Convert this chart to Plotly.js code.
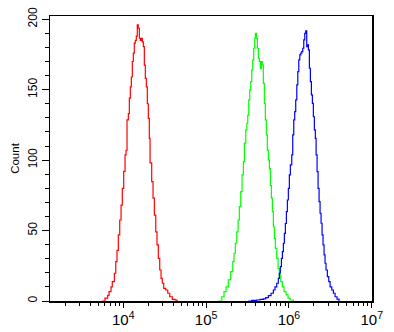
<!DOCTYPE html>
<html>
<head>
<meta charset="utf-8">
<script src="https://cdn.plot.ly/plotly-3.0.1.min.js"></script>
<style>html,body{margin:0;padding:0;background:#fff;}#chart{width:394px;height:332px;}</style>
</head>
<body>
<div id="chart"></div>
<script>
// Fluorescence intensity given as log10 values, counts per bin
const redLogIntensity = [3.747,3.779,3.812,3.828,3.852,3.867,3.892,3.909,3.924,3.940,3.957,3.973,3.988,4.005,4.021,4.033,4.045,4.061,4.073,4.085,4.097,4.109,4.121,4.133,4.145,4.157,4.169,4.181,4.194,4.206,4.218,4.230,4.242,4.254,4.266,4.278,4.290,4.302,4.314,4.323,4.343,4.359,4.375,4.392,4.407,4.423,4.440,4.456,4.471,4.488,4.512,4.537,4.561,4.592,4.625,4.649];
const redCount = [0,2,4,6.6,10,13.7,19.7,27.9,36,47,57.5,68,80,92,103.7,107,128.5,133,144,152,159,170,176,183,185,188,196,193.6,186.5,185,186.5,184,180.6,167.5,158,152,140,129.7,115.5,98,84.7,73,61,49,39.8,30.3,22,16,12.6,9,7.8,5.5,3,1.2,0.7,0];

const greenLogIntensity = [5.148,5.189,5.216,5.241,5.268,5.297,5.322,5.337,5.353,5.370,5.386,5.401,5.418,5.434,5.450,5.462,5.479,5.491,5.503,5.515,5.527,5.539,5.551,5.563,5.575,5.587,5.595,5.607,5.619,5.631,5.643,5.655,5.667,5.679,5.691,5.703,5.715,5.727,5.739,5.752,5.764,5.776,5.788,5.800,5.812,5.824,5.836,5.853,5.869,5.884,5.901,5.921,5.941,5.965,5.989,6.014,6.053];
const greenCount = [0,3,6.6,10,15,20.8,27.9,33.9,41,49,57.5,67,77.6,89.5,99,112,121.4,126,132,142.7,149.8,155.7,164,171,179.4,186.5,190,186.5,179.4,172.3,170,165,170,167.6,154.5,140.3,128.5,117.9,107,100,94,82,73,63.4,52.7,44.5,37.4,30.3,23,18.5,13.7,10,6.6,4.3,2,0.7,0];

const blueLogIntensity = [5.510,5.551,5.611,5.651,5.691,5.720,5.752,5.784,5.812,5.832,5.853,5.872,5.884,5.896,5.909,5.921,5.933,5.945,5.957,5.969,5.981,5.993,6.005,6.017,6.034,6.046,6.058,6.070,6.082,6.095,6.107,6.119,6.131,6.143,6.155,6.167,6.179,6.191,6.203,6.215,6.223,6.235,6.247,6.259,6.271,6.283,6.295,6.307,6.319,6.328,6.340,6.352,6.364,6.376,6.388,6.400,6.412,6.424,6.436,6.448,6.464,6.481,6.497,6.517,6.537,6.557,6.581,6.605];
const blueCount = [0,0.5,0.7,1.2,1.5,2.4,3.8,5.5,7.8,10,12.6,16,19.7,24.4,30.3,35,41,48,55,63.4,71.7,80,89.5,96.6,103.7,117.9,128.5,134.4,142.7,153.4,162.8,171.1,174.7,175.9,177,179.4,185.3,190,191.7,180.6,181.8,178.2,165.2,155.7,146.3,140.3,130.8,121.4,115.5,103.7,91.8,80,70.5,62.3,55.2,46.9,39.8,32.7,26.8,22,17.3,13.7,10,7.8,5.5,3,1.4,0];

const seriesColors = ['#ff0000', '#00ff00', '#0000ff'];
const yAxisTitle = 'Count';

const toLinear = arr => arr.map(v => Math.pow(10, v));

const traces = [
  [redLogIntensity, redCount],
  [greenLogIntensity, greenCount],
  [blueLogIntensity, blueCount]
].map((s, i) => ({
  x: toLinear(s[0]),
  y: s[1],
  type: 'scatter',
  mode: 'lines',
  line: {color: seriesColors[i], width: 1.2, shape: 'hv'},
  hoverinfo: 'skip'
}));

const layout = {
  width: 394, height: 332,
  margin: {l: 50, r: 22, t: 16, b: 31},
  paper_bgcolor: '#fff', plot_bgcolor: '#fff',
  showlegend: false,
  font: {family: 'Liberation Sans, Arial, sans-serif', size: 12, color: '#000'},
  xaxis: {
    type: 'log',
    range: [3.115, 7.003],
    dtick: 1,
    exponentformat: 'power',
    showgrid: false, zeroline: false,
    showline: true, linecolor: '#000', linewidth: 1.5, mirror: true,
    ticks: 'outside', ticklen: 5, tickcolor: '#000', tickwidth: 1,
    minor: {ticks: 'outside', ticklen: 3, tickcolor: '#000', dtick: 'D1', showgrid: false},
    tickfont: {size: 12}
  },
  yaxis: {
    range: [0, 202.3],
    dtick: 50,
    tickangle: -90,
    showgrid: false, zeroline: false,
    showline: true, linecolor: '#000', linewidth: 1.5, mirror: true,
    ticks: 'outside', ticklen: 7, tickcolor: '#000', tickwidth: 1,
    minor: {ticks: 'outside', ticklen: 4, tickcolor: '#000', dtick: 10, showgrid: false},
    tickfont: {size: 12},
    title: {text: yAxisTitle, font: {size: 11.5}, standoff: 3}
  }
};

Plotly.newPlot('chart', traces, layout, {displayModeBar: false, staticPlot: true});
</script>
</body>
</html>
